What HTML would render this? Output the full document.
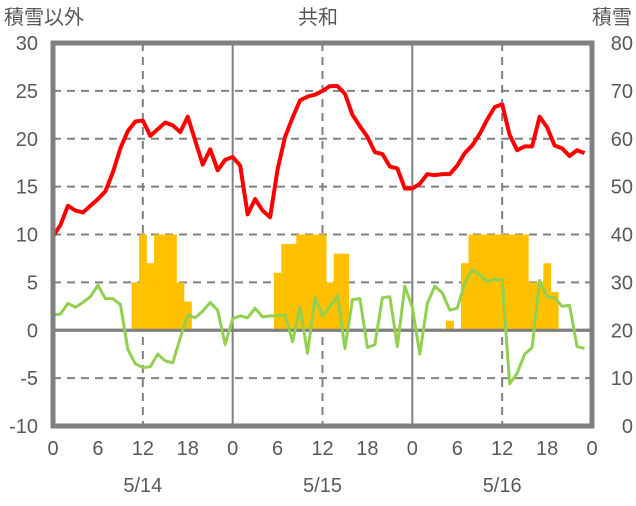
<!DOCTYPE html>
<html><head><meta charset="utf-8"><style>
body{margin:0;background:#fff;}
svg text{font-family:"Liberation Sans","Noto Sans CJK JP",sans-serif;fill:#595959;}
</style></head><body>
<svg id="chart" width="636" height="501" viewBox="0 0 636 501" xmlns="http://www.w3.org/2000/svg">
<g id="grid"></g><g id="bars"></g><g id="lines"></g><g id="frame"></g><g id="labels"></g>
</svg>
<script>
const hours = [0,1,2,3,4,5,6,7,8,9,10,11,12,13,14,15,16,17,18,19,20,21,22,23,24,25,26,27,28,29,30,31,32,33,34,35,36,37,38,39,40,41,42,43,44,45,46,47,48,49,50,51,52,53,54,55,56,57,58,59,60,61,62,63,64,65,66,67,68,69,70,71];
const redSeries = [9.8,11,13,12.5,12.3,13,13.7,14.5,16.5,19,20.8,21.8,21.9,20.3,21,21.7,21.4,20.7,22.3,19.8,17.3,18.9,16.7,17.8,18.1,17.2,12.1,13.7,12.5,11.8,16.8,20.2,22.2,24,24.4,24.6,25,25.5,25.5,24.7,22.5,21.3,20.2,18.6,18.4,17.1,16.9,14.8,14.8,15.3,16.3,16.2,16.3,16.3,17.2,18.5,19.3,20.5,22,23.3,23.6,20.4,18.8,19.2,19.2,22.3,21.2,19.3,19,18.2,18.8,18.5];
const greenSeries = [1.6,1.7,2.8,2.4,2.9,3.5,4.7,3.3,3.3,2.7,-2,-3.5,-3.9,-3.8,-2.5,-3.2,-3.4,-0.8,1.6,1.3,2,2.9,2.1,-1.5,1.2,1.5,1.3,2.3,1.4,1.5,1.5,1.6,-1.2,2.4,-2.4,3.4,1.5,2.5,3.6,-1.9,3.2,3.3,-1.8,-1.5,3.4,3.5,-1.7,4.6,2.4,-2.5,2.8,4.6,3.9,2.1,2.3,4.9,6.3,5.8,5.1,5.3,5.3,-5.6,-4.5,-2.5,-1.8,5.2,3.5,3.4,2.5,2.6,-1.7,-1.9];
const barHours = [11,12,13,14,15,16,17,18,30,31,32,33,34,35,36,37,38,39,53,55,56,57,58,59,60,61,62,63,64,65,66,67];
const barValues = [5,10,7,10,10,10,5,3,6,9,9,10,10,10,10,5,8,8,1,7,10,10,10,10,10,10,10,10,5,5,7,4];
const leftTicks = [-10,-5,0,5,10,15,20,25,30];
const rightTicks = [0,10,20,30,40,50,60,70,80];
const xTickHours = [0,6,12,18,24,30,36,42,48,54,60,66,72];
const xTickLabels = ["0","6","12","18","0","6","12","18","0","6","12","18","0"];
const dateLabels = ["5/14","5/15","5/16"];

const X0=53,X1=592,Y0=426,Y1=43;
const x = h => X0 + (X1-X0)*h/72;
const yL = v => Y0 - (Y0-Y1)*(v+10)/40;
const yR = v => Y0 - (Y0-Y1)*v/80;
const NS="http://www.w3.org/2000/svg";
function mk(tag, parent, attrs){const e=document.createElementNS(NS,tag);for(const k in attrs)e.setAttribute(k,attrs[k]);document.getElementById(parent).appendChild(e);return e;}

// grid
leftTicks.forEach(v=>{ if(v===-10||v===30||v===0) return;
  const l=mk('line','grid',{x1:X0,x2:X1,y1:yL(v),y2:yL(v),stroke:'#808080','stroke-width':2,'stroke-dasharray':'8,6'});
  
  
});
[12,36,60].forEach(h=>{
  const l=mk('line','grid',{x1:x(h),x2:x(h),y1:Y1,y2:Y0,stroke:'#808080','stroke-width':2,'stroke-dasharray':'8,6'});
  
  
});
[24,48].forEach(h=>{
  const l=mk('line','grid',{x1:x(h),x2:x(h),y1:Y1,y2:Y0,stroke:'#808080','stroke-width':2});
  
  
});
// bars
barHours.forEach((h,i)=>{
  const r=mk('rect','bars',{x:x(h-0.5),width:x(h+0.5)-x(h-0.5)+0.3,y:yL(barValues[i]),height:yL(0)-yL(barValues[i]),fill:'#FFC000'});
  
  
});
// zero line
const z=mk('line','grid',{x1:X0,x2:X1,y1:yL(0),y2:yL(0),stroke:'#808080','stroke-width':3});


document.getElementById('grid').parentNode.insertBefore(document.getElementById('bars'),document.getElementById('lines'));
const zz=z.cloneNode(); document.getElementById('lines').appendChild(zz);
// lines
const gp=mk('polyline','lines',{points:hours.map((h,i)=>x(h)+','+yL(greenSeries[i])).join(' '),fill:'none',stroke:'#92D050','stroke-width':3,'stroke-linejoin':'round'});


const rp=mk('polyline','lines',{points:hours.map((h,i)=>x(h)+','+yL(redSeries[i])).join(' '),fill:'none',stroke:'#FF0000','stroke-width':4,'stroke-linejoin':'round'});


// frame
const f=mk('rect','frame',{x:X0,y:Y1,width:X1-X0,height:Y0-Y1,fill:'none',stroke:'#808080','stroke-width':5});


// labels
leftTicks.forEach(v=>{const t=mk('text','labels',{x:38,y:yL(v)+7,'text-anchor':'end','font-size':20});t.textContent=v;

});
rightTicks.forEach(v=>{const t=mk('text','labels',{x:633,y:yR(v)+7,'text-anchor':'end','font-size':20});t.textContent=v;

});
xTickHours.forEach((h,i)=>{const t=mk('text','labels',{x:x(h),y:455,'text-anchor':'middle','font-size':20});t.textContent=xTickLabels[i];

});
dateLabels.forEach((d,i)=>{const t=mk('text','labels',{x:x(12+24*i),y:492,'text-anchor':'middle','font-size':20});t.textContent=d;

});
[["積雪以外",4,'start','left-axis-title'],["共和",318,'middle','chart-title'],["積雪",632,'end','right-axis-title']].forEach(a=>{
const t=mk('text','labels',{x:a[1],y:24,'text-anchor':a[2],'font-size':20});t.textContent=a[0];

});
</script>
</body></html>
